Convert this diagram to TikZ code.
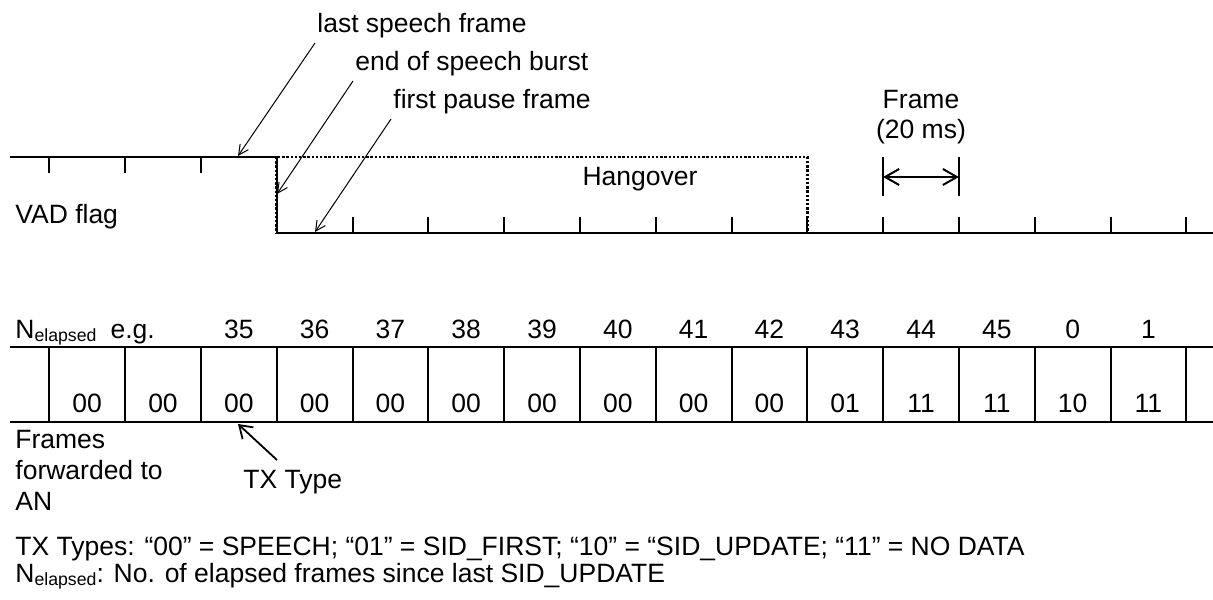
\documentclass[tikz,border=0pt]{standalone}
\usepackage{fontspec}
\setmainfont{Liberation Sans}
\usetikzlibrary{arrows.meta}
\newcommand{\fw}{75.8}
\newcommand{\xo}{49.3}
\newcommand{\yhi}{157}
\newcommand{\ylo}{233}
\newcommand{\ytop}{347}
\newcommand{\ybot}{422}
\newcommand{\nel}{N\raisebox{-1.8pt}{\fontsize{8.85}{10}\selectfont elapsed}}
\tikzstyle{bord}=[line width=1pt]
\tikzstyle{pointille}=[line width=1.3pt,dash pattern=on 1.2pt off 0.9pt]
\tikzstyle{fleche}=[line width=0.5pt,-{Straight Barb[length=5pt,width=5pt]}]
\tikzstyle{texte}=[inner sep=0pt,anchor=base west]
\tikzstyle{ctexte}=[inner sep=0pt,anchor=base]

\begin{document}
\begin{tikzpicture}[x=0.5pt,y=-0.5pt,font=\fontsize{13.25}{15.5}\selectfont]
\useasboundingbox (0,0) rectangle (1213,599);

\draw[bord] (10,\yhi) -- (\xo+3*\fw,\yhi) -- (\xo+3*\fw,\ylo) -- (1213,\ylo);

\foreach \k in {0,1,2}
\draw[bord] (\xo+\k*\fw,\yhi) -- ++(0,16);

\foreach \k in {4,...,15}
\draw[bord] (\xo+\k*\fw,\ylo) -- ++(0,-16);

\draw[pointille] (\xo+3*\fw,\yhi) rectangle (\xo+10*\fw,\ylo);

\node[ctexte] (hang) at (640,185) {Hangover};
\node[texte] (vad) at (15,223) {VAD flag};

\node[texte] (lastsp) at (317,33) {last speech frame};
\node[texte] (endsp) at (355,71) {end of speech burst};
\node[texte] (firstp) at (393,108) {first pause frame};

\coordinate (lastspT) at (315,43);
\coordinate (lastspH) at (238,156);
\coordinate (endspT) at (353,81);
\coordinate (endspH) at (277,194);
\coordinate (firstpT) at (391,119);
\coordinate (firstpH) at (315,232);

\draw[fleche] (lastspT) -- (lastspH);
\draw[fleche] (endspT) -- (endspH);
\draw[fleche] (firstpT) -- (firstpH);

\node[ctexte] (frm) at (\xo+11.5*\fw,109) {Frame};
\node[ctexte] (frmms) at (\xo+11.5*\fw,138) {(20 ms)};
\draw[bord] (\xo+11*\fw,157) -- ++(0,39);
\draw[bord] (\xo+12*\fw,157) -- ++(0,39);
\coordinate (frmG) at (\xo+11*\fw,177);
\coordinate (frmD) at (\xo+12*\fw,177);
\draw[bord,{Straight Barb[length=7pt,width=8pt]}-{Straight Barb[length=7pt,width=8pt]}] (frmG) -- (frmD);

\draw[bord] (10,\ytop) -- (1213,\ytop);
\draw[bord] (10,\ybot) -- (1213,\ybot);
\foreach \k in {0,...,15}
\draw[bord] (\xo+\k*\fw,\ytop) -- (\xo+\k*\fw,\ybot);

\node[texte] (nel) at (15,338) {\nel\hspace{7pt}e.g.};
\foreach \n [count=\k from 2] in {35,36,37,38,39,40,41,42,43,44,45,0,1}
\node[ctexte] (num\k) at (\xo+\k*\fw+0.5*\fw,338) {\n};

\foreach \c [count=\k from 0] in {00,00,00,00,00,00,00,00,00,00,01,11,11,10,11}
\node[ctexte] (tx\k) at (\xo+\k*\fw+0.5*\fw,412) {\c};

\node[texte,align=left] (fwd) at (15,510) {Frames\\forwarded to\\AN};
\node[texte] (txtype) at (243,488) {TX Type};
\coordinate (txT) at (277,460);
\coordinate (txH) at (238,424);
\draw[line width=0.9pt,-{Straight Barb[length=6pt,width=8pt]}] (txT) -- (txH);

\node[texte] (leg1) at (15,555) {TX Types: “00” = SPEECH; “01” = SID\_FIRST; “10” = “SID\_UPDATE; “11” = NO DATA};
\node[texte] (leg2) at (15,582) {\nel: No. of elapsed frames since last SID\_UPDATE};

\end{tikzpicture}
\end{document}
